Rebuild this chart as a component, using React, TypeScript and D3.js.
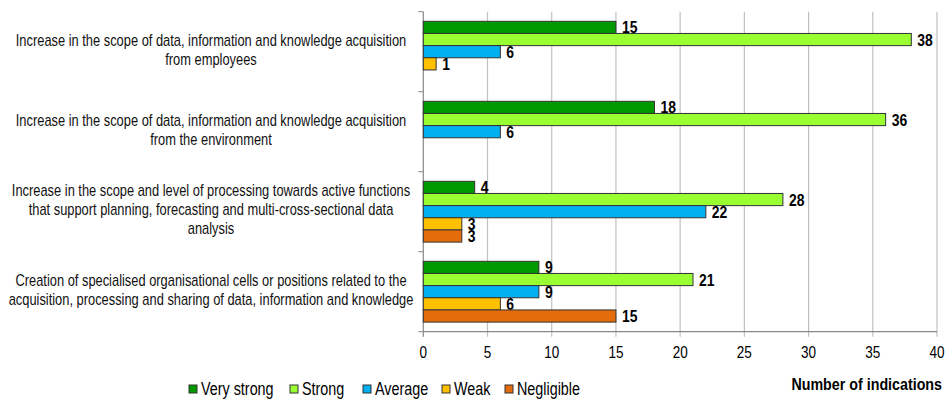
import React from 'react';
import * as d3 from 'd3';

// category labels, already broken into the lines used in the picture
const categories: string[][] = [
  ['Increase in the scope of data, information and knowledge acquisition', 'from employees'],
  ['Increase in the scope of data, information and knowledge acquisition', 'from the environment'],
  [
    'Increase in the scope and level of processing towards active functions',
    'that support planning,  forecasting and multi-cross-sectional data',
    'analysis',
  ],
  [
    'Creation of specialised organisational cells or positions related to the',
    'acquisition, processing and sharing of data, information and knowledge',
  ],
];

const seriesNames = ['Very strong', 'Strong', 'Average', 'Weak', 'Negligible'];
const seriesColors = ['#009900', '#99ff33', '#00b0f0', '#ffc000', '#e46c0a'];

// null = no indication (no bar drawn)
const veryStrong = [15, 18, 4, 9];
const strong = [38, 36, 28, 21];
const average = [6, 6, 22, 9];
const weak = [1, null, 3, 6];
const negligible = [null, null, 3, 15];
const seriesValues: (number | null)[][] = [veryStrong, strong, average, weak, negligible];

const xMax = 40;
const axisTitle = 'Number of indications';

const FONT = '"Liberation Sans", Arial, sans-serif';
const SQUEEZE = 0.82; // the original uses a narrow face; squeeze a regular one

// text drawn with a horizontal squeeze, anchored at (x, y)
const Narrow: React.FC<{
  x: number;
  y: number;
  size: number;
  anchor?: 'start' | 'middle' | 'end';
  bold?: boolean;
  fill?: string;
  children: React.ReactNode;
}> = ({ x, y, size, anchor = 'start', bold = false, fill = '#000', children }) => (
  <g transform={`translate(${x},${y}) scale(${SQUEEZE},1)`}>
    <text
      x={0}
      y={0}
      dy="0.35em"
      textAnchor={anchor}
      fontFamily={FONT}
      fontSize={size}
      fontWeight={bold ? 'bold' : 'normal'}
      fill={fill}
    >
      {children}
    </text>
  </g>
);

const App: React.FC = () => {
  const width = 951;
  const height = 400;
  const plot = { left: 423.3, right: 937, top: 11.7, bottom: 331.7 };

  const x = d3.scaleLinear().domain([0, xMax]).range([plot.left, plot.right]);
  const y0 = d3
    .scaleBand<number>()
    .domain(categories.map((_, i) => i))
    .range([plot.top, plot.bottom]);
  const y1 = d3
    .scaleBand<number>()
    .domain(seriesNames.map((_, i) => i))
    .range([0, y0.bandwidth()])
    .paddingOuter(0.79);

  const ticks = x.ticks(8);
  const boundaries = d3.range(categories.length + 1).map((i) => plot.top + i * y0.step());

  // legend layout
  const legendX = [189, 290, 363, 442, 505];

  return (
    <div style={{ position: 'absolute', left: 0, top: 0 }}>
      <svg width={width} height={height} style={{ display: 'block', background: '#fff' }}>
        {/* gridlines */}
        {ticks.map((t) => (
          <line
            key={'g' + t}
            x1={x(t)}
            x2={x(t)}
            y1={plot.top}
            y2={plot.bottom + 5}
            stroke={t === 0 ? '#888' : '#c0c0c0'}
            strokeWidth={1.2}
          />
        ))}
        {/* category axis ticks */}
        {boundaries.map((b, i) => (
          <line key={'b' + i} x1={plot.left - 5} x2={plot.left} y1={b} y2={b} stroke="#888" />
        ))}
        <line x1={plot.left} x2={plot.right} y1={plot.bottom} y2={plot.bottom} stroke="#888" strokeWidth={1.2} />

        {/* bars */}
        {categories.map((_, ci) =>
          seriesValues.map((vals, si) => {
            const v = vals[ci];
            if (v == null) return null;
            const yy = y0(ci)! + y1(si)!;
            return (
              <g key={`bar-${ci}-${si}`}>
                <rect
                  x={x(0)}
                  y={yy}
                  width={x(v) - x(0)}
                  height={y1.bandwidth()}
                  fill={seriesColors[si]}
                  stroke="#333"
                  strokeWidth={1}
                />
                <Narrow x={x(v) + 6} y={yy + y1.bandwidth() / 2} size={17} bold>
                  {v}
                </Narrow>
              </g>
            );
          })
        )}

        {/* category labels */}
        {categories.map((lines, ci) => {
          const lh = 19;
          const cy = y0(ci)! + y0.bandwidth() / 2 - 2;
          const start = cy - ((lines.length - 1) * lh) / 2;
          return (
            <g key={'c' + ci}>
              {lines.map((l, li) => (
                <Narrow key={li} x={211} y={start + li * lh} size={15.7} anchor="middle" fill="#111">
                  {l}
                </Narrow>
              ))}
            </g>
          );
        })}

        {/* value axis labels */}
        {ticks.map((t) => (
          <Narrow key={'t' + t} x={x(t)} y={352} size={16.5} anchor="middle">
            {t}
          </Narrow>
        ))}
        <Narrow x={942} y={384} size={17.4} anchor="end" bold>
          {axisTitle}
        </Narrow>

        {/* legend */}
        {seriesNames.map((name, i) => (
          <g key={'l' + i}>
            <rect
              x={legendX[i]}
              y={385}
              width={8}
              height={8}
              fill={seriesColors[i]}
              stroke="#333"
              strokeWidth={1}
            />
            <Narrow x={legendX[i] + 12} y={389} size={17.5}>
              {name}
            </Narrow>
          </g>
        ))}
      </svg>
    </div>
  );
};

export default App;
